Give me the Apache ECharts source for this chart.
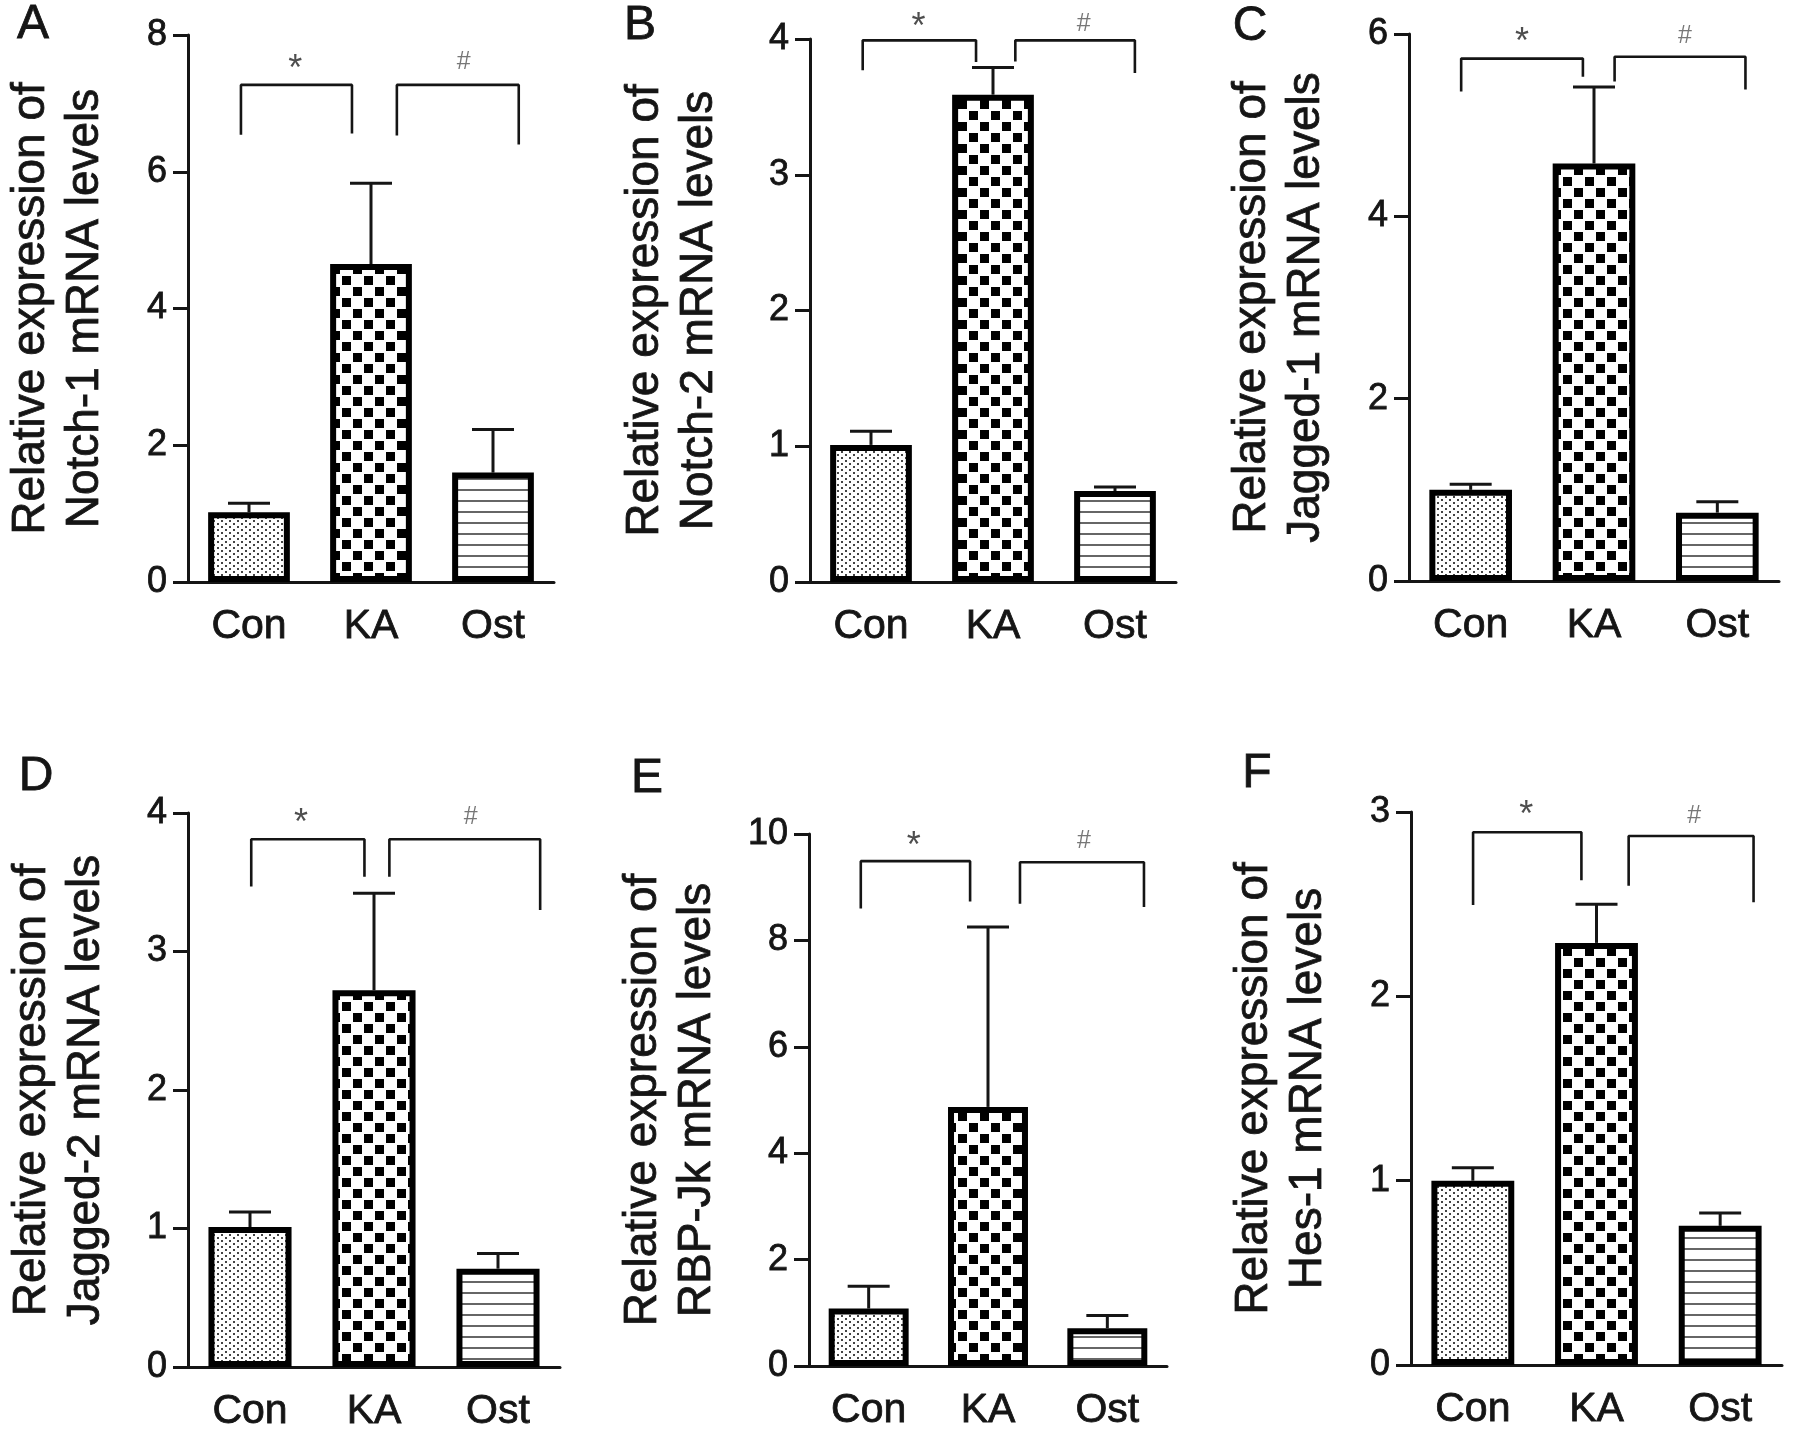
<!DOCTYPE html>
<html><head><meta charset="utf-8">
<script src="https://cdn.jsdelivr.net/npm/echarts@6/dist/echarts.min.js"></script>
<style>html,body{margin:0;padding:0;background:#fff}#c{width:1795px;height:1437px}</style>
</head><body><div id="c"></div>
<script>
// ---------- data ----------
const categories = ['Con', 'KA', 'Ost'];
const panelLetters = ['A', 'B', 'C', 'D', 'E', 'F'];
const geneNames = ['Notch-1', 'Notch-2', 'Jagged-1', 'Jagged-2', 'RBP-Jk', 'Hes-1'];
const yMax = [8, 4, 6, 4, 10, 3];
const yInterval = [2, 1, 2, 1, 2, 1];

const notch1Mean = [1.02, 4.65, 1.60];   const notch1Upper = [1.15, 5.83, 2.23];
const notch2Mean = [1.01, 3.59, 0.67];   const notch2Upper = [1.11, 3.79, 0.70];
const jagged1Mean = [1.00, 4.58, 0.75];  const jagged1Upper = [1.06, 5.42, 0.87];
const jagged2Mean = [1.01, 2.72, 0.71];  const jagged2Upper = [1.12, 3.42, 0.82];
const rbpjkMean = [1.08, 4.87, 0.71];    const rbpjkUpper = [1.50, 8.25, 0.95];
const hes1Mean = [1.00, 2.29, 0.755];    const hes1Upper = [1.07, 2.50, 0.825];

// significance brackets: [x (0..3 across the category axis), y]
const notch1Star = [[0.434, 6.54], [0.434, 7.27], [1.344, 7.27], [1.344, 6.56]];
const notch1Hash = [[1.712, 6.53], [1.712, 7.27], [2.711, 7.27], [2.711, 6.40]];
const notch2Star = [[0.432, 3.77], [0.432, 3.99], [1.361, 3.99], [1.361, 3.83]];
const notch2Hash = [[1.683, 3.835], [1.683, 3.99], [2.663, 3.99], [2.663, 3.75]];
const jagged1Star = [[0.423, 5.37], [0.423, 5.73], [1.41, 5.73], [1.41, 5.53]];
const jagged1Hash = [[1.667, 5.48], [1.667, 5.75], [2.728, 5.75], [2.728, 5.39]];
const jagged2Star = [[0.51, 3.47], [0.51, 3.81], [1.423, 3.81], [1.423, 3.54]];
const jagged2Hash = [[1.624, 3.54], [1.624, 3.81], [2.84, 3.81], [2.84, 3.30]];
const rbpjkStar = [[0.434, 8.60], [0.434, 9.49], [1.35, 9.49], [1.35, 8.73]];
const rbpjkHash = [[1.768, 8.69], [1.768, 9.47], [2.807, 9.47], [2.807, 8.63]];
const hes1Star = [[0.502, 2.495], [0.502, 2.89], [1.378, 2.89], [1.378, 2.63]];
const hes1Hash = [[1.76, 2.60], [1.76, 2.87], [2.77, 2.87], [2.77, 2.51]];

// significance mark positions [x, y]
const notch1Marks = [[0.88, 7.61], [2.26, 7.61]];
const notch2Marks = [[0.889, 4.14], [2.244, 4.11]];
const jagged1Marks = [[0.917, 5.99], [2.238, 5.98]];
const jagged2Marks = [[0.912, 3.98], [2.28, 3.97]];
const rbpjkMarks = [[0.878, 9.91], [2.305, 9.87]];
const hes1Marks = [[0.932, 3.02], [2.29, 2.98]];
const markSymbols = ['*', '#'];

const means = [notch1Mean, notch2Mean, jagged1Mean, jagged2Mean, rbpjkMean, hes1Mean];
const uppers = [notch1Upper, notch2Upper, jagged1Upper, jagged2Upper, rbpjkUpper, hes1Upper];
const starBrackets = [notch1Star, notch2Star, jagged1Star, jagged2Star, rbpjkStar, hes1Star];
const hashBrackets = [notch1Hash, notch2Hash, jagged1Hash, jagged2Hash, rbpjkHash, hes1Hash];
const markPositions = [notch1Marks, notch2Marks, jagged1Marks, jagged2Marks, rbpjkMarks, hes1Marks];

// ---------- layout (pixels) ----------
const W = 1795, H = 1437;
const grids = [
  {left: 188, right: W - 554, top: 35, bottom: H - 582},
  {left: 810, right: W - 1176, top: 39, bottom: H - 582},
  {left: 1409, right: W - 1779, top: 34, bottom: H - 581},
  {left: 188, right: W - 560, top: 813, bottom: H - 1367},
  {left: 809, right: W - 1167, top: 834, bottom: H - 1366},
  {left: 1411, right: W - 1782, top: 812, bottom: H - 1365}
];
const nameGaps = [76, 84, 76, 75, 85, 76];
const letterPos = [[33, 25], [640, 26], [1250, 27], [36, 777], [647, 779], [1257, 774]];

const FONT = 'Liberation Sans, Arial, Helvetica, sans-serif';
const INK = '#151515';
const HEAVY = {textBorderColor: INK, textBorderWidth: 0.8};

function makePattern(kind) {
  const c = document.createElement('canvas');
  const ctx = c.getContext('2d');
  if (kind === 'dots') {
    c.width = 8; c.height = 6;
    ctx.fillStyle = '#fff'; ctx.fillRect(0, 0, 8, 6);
    ctx.fillStyle = '#444';
    ctx.fillRect(1, 1, 2, 2); ctx.fillRect(5, 4, 2, 2);
  } else if (kind === 'checker') {
    c.width = 22; c.height = 22;
    ctx.fillStyle = '#fff'; ctx.fillRect(0, 0, 22, 22);
    ctx.fillStyle = '#000';
    ctx.fillRect(1, 1, 9, 9); ctx.fillRect(12, 12, 9, 9);
  } else {
    c.width = 4; c.height = 11;
    ctx.fillStyle = '#fff'; ctx.fillRect(0, 0, 4, 11);
    ctx.fillStyle = '#666';
    ctx.fillRect(0, 5, 4, 2);
  }
  return {image: c, repeat: 'repeat'};
}
const patterns = [makePattern('dots'), makePattern('checker'), makePattern('lines')];

const option = {
  backgroundColor: '#fff',
  animation: false,
  grid: [], xAxis: [], yAxis: [], series: [], graphic: []
};

for (let i = 0; i < 6; i++) {
  option.grid.push(Object.assign({containLabel: false, outerBoundsMode: 'none'}, grids[i]));
  option.xAxis.push({
    type: 'category', gridIndex: i, data: categories,
    axisLine: {lineStyle: {color: INK, width: 3}},
    axisTick: {alignWithLabel: true, length: 17, lineStyle: {color: INK, width: 3}},
    axisLabel: Object.assign({fontSize: 41, color: INK, margin: 24, fontFamily: FONT}, HEAVY),
    splitLine: {show: false}
  });
  option.xAxis.push({type: 'value', gridIndex: i, min: 0, max: 3, show: false});
  option.yAxis.push({
    type: 'value', gridIndex: i, min: 0, max: yMax[i], interval: yInterval[i],
    name: 'Relative expression of\n' + geneNames[i] + ' mRNA levels',
    nameLocation: 'middle', nameGap: nameGaps[i], nameRotate: 90,
    nameTextStyle: Object.assign({fontSize: 46, lineHeight: 54, color: INK, fontFamily: FONT}, HEAVY),
    axisLine: {show: true, lineStyle: {color: INK, width: 3}},
    axisTick: {show: true, length: 15, lineStyle: {color: INK, width: 3}},
    axisLabel: Object.assign({fontSize: 36, color: INK, margin: 21, fontFamily: FONT}, HEAVY),
    splitLine: {show: false}
  });
  const xCat = 2 * i, xVal = 2 * i + 1;
  option.series.push({
    type: 'bar', xAxisIndex: xCat, yAxisIndex: i, barWidth: '67%', z: 3,
    data: means[i].map((v, k) => ({value: v, itemStyle: {color: patterns[k]}})),
    itemStyle: {borderColor: '#000', borderWidth: 6}
  });
  option.series.push({
    type: 'custom', xAxisIndex: xCat, yAxisIndex: i, z: 2,
    data: categories.map((c, k) => [k, means[i][k], uppers[i][k]]),
    encode: {x: 0, y: [1, 2]},
    renderItem: function (params, api) {
      const x = api.value(0);
      const p0 = api.coord([x, api.value(1)]);
      const p1 = api.coord([x, api.value(2)]);
      const hw = 21;
      return {type: 'group', children: [
        {type: 'line', shape: {x1: p0[0], y1: p0[1], x2: p1[0], y2: p1[1]}, style: {stroke: INK, lineWidth: 3}},
        {type: 'line', shape: {x1: p1[0] - hw, y1: p1[1], x2: p1[0] + hw, y2: p1[1]}, style: {stroke: INK, lineWidth: 3}}
      ]};
    }
  });
  [starBrackets[i], hashBrackets[i]].forEach(br => {
    option.series.push({
      type: 'line', xAxisIndex: xVal, yAxisIndex: i, data: br, symbol: 'none', clip: false,
      lineStyle: {color: INK, width: 2.6}, z: 4
    });
  });
  option.series.push({
    type: 'scatter', xAxisIndex: xVal, yAxisIndex: i, clip: false, symbolSize: 1,
    itemStyle: {color: 'rgba(0,0,0,0)'}, z: 5,
    data: markPositions[i].map((p, k) => ({
      value: p, name: markSymbols[k],
      label: k === 0
        ? {fontSize: 36, color: '#222', offset: [0, 8]}
        : {fontSize: 25, color: '#555', offset: [0, 0]}
    })),
    label: {show: true, position: 'inside', formatter: p => p.name, fontFamily: FONT}
  });
  option.graphic.push({
    type: 'text', x: letterPos[i][0], y: letterPos[i][1], z: 10,
    style: {text: panelLetters[i], font: '48px ' + FONT, fill: INK, stroke: INK, lineWidth: 0.8,
            textAlign: 'center', textVerticalAlign: 'middle'}
  });
}

const chart = echarts.init(document.getElementById('c'));
chart.setOption(option);
</script>
</body></html>
